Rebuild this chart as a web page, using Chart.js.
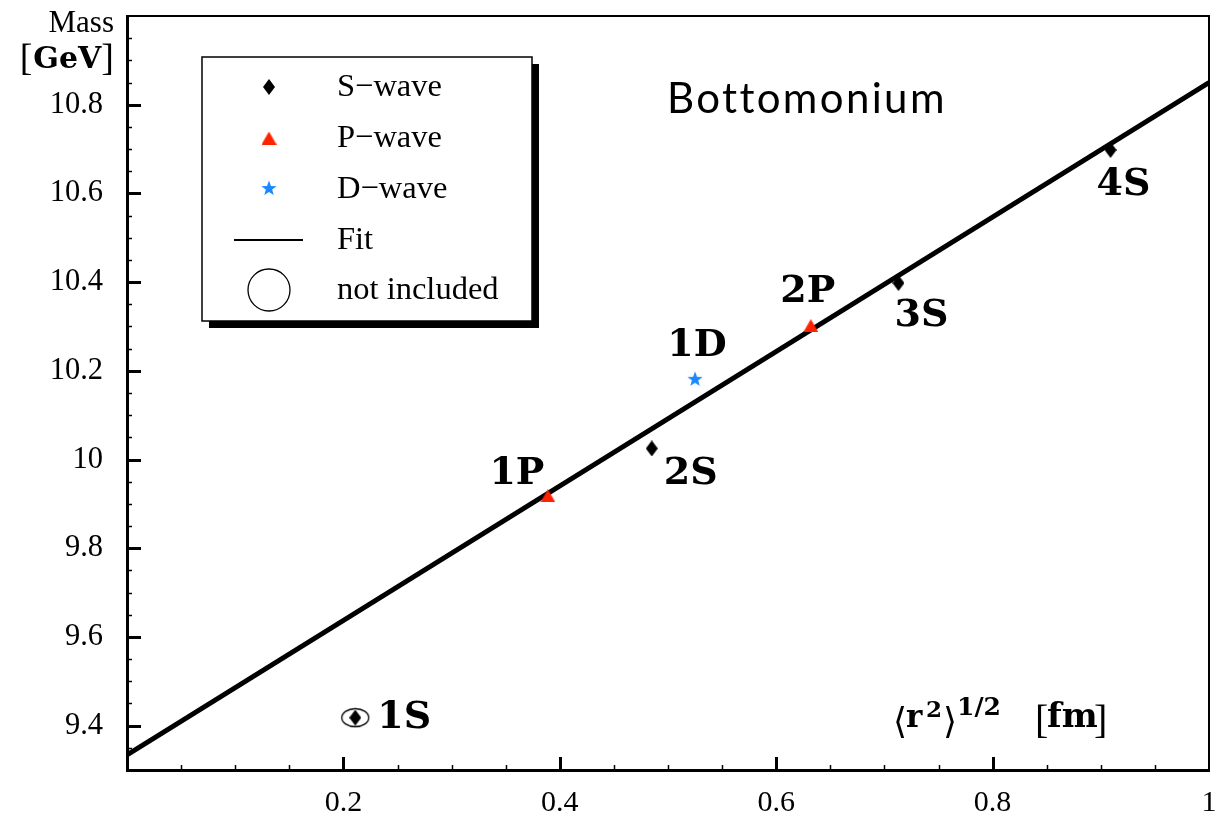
<!DOCTYPE html>
<html>
<head>
<meta charset="utf-8">
<script src="https://cdn.jsdelivr.net/npm/chart.js@4.4.1/dist/chart.umd.min.js"></script>
<style>
  html, body { margin: 0; padding: 0; background: #fff; overflow: hidden; }
  #myChart { display: block; }
</style>
</head>
<body>
<canvas id="myChart" width="1223" height="817"></canvas>
<script>
"use strict";

/* Values */
const sStates = ["2S", "3S", "4S"];
const sRadius = [0.485, 0.713, 0.909];
const sMass = [10.025, 10.398, 10.698];

const pStates = ["1P", "2P"];
const pRadius = [0.389, 0.632];
const pMass = [9.918, 10.302];

const dStates = ["1D"];
const dRadius = [0.525];
const dMass = [10.182];

const excludedStates = ["1S"];
const excludedRadius = [0.211];
const excludedMass = [9.418];

const fitRadius = [0, 1];
const fitMass = [9.334, 10.850];

const xTicks = [0.2, 0.4, 0.6, 0.8, 1];
const yTicks = [9.4, 9.6, 9.8, 10, 10.2, 10.4, 10.6, 10.8];

/* Label offsets in pixels (style only) */
const labelOffsets = {
  "1S": [22, 0, "left"],
  "1P": [-31, -22, "center"],
  "2S": [39, 26, "center"],
  "1D": [2, -33, "center"],
  "2P": [-3, -33, "center"],
  "3S": [23, 33, "center"],
  "4S": [13, 35, "center"]
};

const SERIF = "'Liberation Serif', 'Times New Roman', serif";
const BOLD_SERIF = "'DejaVu Serif', serif";
const RED = "#ff2200";
const BLUE = "#1a88ff";

/* Marker images */
function makeCanvas(w, h, draw) {
  const c = document.createElement("canvas");
  c.width = w;
  c.height = h;
  draw(c.getContext("2d"), w, h);
  return c;
}

const diamond = makeCanvas(12, 16, (g, w, h) => {
  g.fillStyle = "#000";
  g.beginPath();
  g.moveTo(w / 2, 0);
  g.lineTo(w, h / 2);
  g.lineTo(w / 2, h);
  g.lineTo(0, h / 2);
  g.closePath();
  g.fill();
});

const triangle = makeCanvas(15, 13, (g, w, h) => {
  g.fillStyle = RED;
  g.beginPath();
  g.moveTo(w / 2, 0);
  g.lineTo(w, h);
  g.lineTo(0, h);
  g.closePath();
  g.fill();
});

const star = makeCanvas(16, 16, (g, w, h) => {
  g.fillStyle = BLUE;
  g.beginPath();
  const R = 8, r = 3.3;
  for (let i = 0; i < 10; i++) {
    const a = -Math.PI / 2 + i * Math.PI / 5;
    const rad = i % 2 === 0 ? R : r;
    const px = w / 2 + rad * Math.cos(a);
    const py = h / 2 + 0.6 + rad * Math.sin(a);
    if (i === 0) g.moveTo(px, py); else g.lineTo(px, py);
  }
  g.closePath();
  g.fill();
});

const ellipse = makeCanvas(30, 21, (g, w, h) => {
  g.strokeStyle = "#000";
  g.lineWidth = 1.3;
  g.beginPath();
  g.ellipse(w / 2, h / 2, 13.5, 9, 0, 0, Math.PI * 2);
  g.stroke();
});

function toPoints(xs, ys) {
  return xs.map((x, i) => ({ x: x, y: ys[i] }));
}

function noScalePadding(scale) {
  scale.paddingTop = 0;
  scale.paddingBottom = 0;
  scale.paddingLeft = 0;
  scale.paddingRight = 0;
}

/* Frame, inward ticks, labels, legend box */
const decorations = {
  id: "decorations",
  afterDraw(chart) {
    const ctx = chart.ctx;
    const area = chart.chartArea;
    const xs = chart.scales.x;
    const ys = chart.scales.y;
    ctx.save();

    // top and right frame
    ctx.strokeStyle = "#000";
    ctx.lineWidth = 2;
    ctx.beginPath();
    ctx.moveTo(area.left, area.top);
    ctx.lineTo(area.right, area.top);
    ctx.lineTo(area.right, area.bottom);
    ctx.stroke();

    // inward ticks
    for (let k = 1; k < 20; k++) {
      const px = Math.round(xs.getPixelForValue(k * 0.05)) + 0.5;
      const major = k % 4 === 0;
      ctx.lineWidth = major ? 3 : 1.5;
      ctx.beginPath();
      ctx.moveTo(px, area.bottom);
      ctx.lineTo(px, area.bottom - (major ? 13 : 5));
      ctx.stroke();
    }
    for (let k = 1; k < 34; k++) {
      const v = 9.3 + k * 0.05;
      const py = Math.round(ys.getPixelForValue(v)) + 0.5;
      const major = (k - 2) % 4 === 0;
      ctx.lineWidth = major ? 3 : 1.5;
      ctx.beginPath();
      ctx.moveTo(area.left, py);
      ctx.lineTo(area.left + (major ? 14 : 5), py);
      ctx.stroke();
    }

    // state labels next to each marker
    ctx.fillStyle = "#000";
    ctx.font = "bold 38px " + BOLD_SERIF;
    ctx.textBaseline = "middle";
    chart.data.datasets.forEach((ds, i) => {
      if (!ds.states) return;
      const meta = chart.getDatasetMeta(i);
      meta.data.forEach((el, j) => {
        const name = ds.states[j];
        const off = labelOffsets[name];
        ctx.textAlign = off[2];
        ctx.fillText(name, el.x + off[0], el.y + off[1]);
      });
    });

    // legend box with shadow
    const bx = 202, by = 57, bw = 330, bh = 264;
    ctx.fillStyle = "#000";
    ctx.fillRect(bx + 7, by + 7, bw, bh);
    ctx.fillStyle = "#fff";
    ctx.fillRect(bx, by, bw, bh);
    ctx.strokeStyle = "#000";
    ctx.lineWidth = 1.5;
    ctx.strokeRect(bx, by, bw, bh);

    const symX = 269, textX = 337;
    ctx.drawImage(diamond, symX - diamond.width / 2, 87 - diamond.height / 2);
    ctx.drawImage(triangle, symX - triangle.width / 2, 138 - triangle.height / 2);
    ctx.drawImage(star, symX - star.width / 2, 188 - star.height / 2);
    ctx.lineWidth = 2;
    ctx.beginPath();
    ctx.moveTo(234, 240);
    ctx.lineTo(303, 240);
    ctx.stroke();
    ctx.lineWidth = 1.3;
    ctx.beginPath();
    ctx.arc(symX, 290, 21, 0, Math.PI * 2);
    ctx.stroke();

    ctx.fillStyle = "#000";
    ctx.font = "32.5px " + SERIF;
    ctx.textAlign = "left";
    ctx.textBaseline = "alphabetic";
    const legendText = ["S\u2212wave", "P\u2212wave", "D\u2212wave", "Fit", "not included"];
    const legendBase = [96, 147, 198, 249, 299];
    legendText.forEach((t, i) => ctx.fillText(t, textX, legendBase[i]));

    // title, stretched to the width of the original
    ctx.font = "42px Lato, 'Open Sans', sans-serif";
    const title = "Bottomonium";
    const tw = ctx.measureText(title).width;
    ctx.letterSpacing = ((276 - tw) / (title.length - 1)).toFixed(2) + "px";
    ctx.fillText(title, 667, 113);
    ctx.letterSpacing = "0px";

    // y axis title
    ctx.textAlign = "right";
    ctx.font = "31px " + SERIF;
    ctx.fillText("Mass", 114, 32);
    let x = 114;
    ctx.font = "38px " + SERIF;
    ctx.fillText("]", x, 70);
    x -= ctx.measureText("]").width;
    ctx.font = "bold 30px " + BOLD_SERIF;
    ctx.fillText("GeV", x, 68);
    x -= ctx.measureText("GeV").width + 1;
    ctx.font = "38px " + SERIF;
    ctx.fillText("[", x, 70);

    // x axis title
    ctx.textAlign = "left";
    const put = (t, font, px, py) => {
      ctx.font = font;
      ctx.fillText(t, px, py);
    };
    const ANGLE = "36px 'DejaVu Sans', sans-serif";
    put("\u27E8", ANGLE, 893, 733);
    put("r", "bold 31px " + BOLD_SERIF, 906, 727);
    put("2", "bold 23px " + BOLD_SERIF, 926, 717);
    put("\u27E9", ANGLE, 943, 733);
    put("1/2", "bold 25px " + BOLD_SERIF, 957, 715);
    put("[", "40px " + SERIF, 1035, 733);
    put("fm", "bold 34px " + BOLD_SERIF, 1047, 727);
    put("]", "40px " + SERIF, 1094, 733);

    ctx.restore();
  }
};

const ctxEl = document.getElementById("myChart");
new Chart(ctxEl, {
  type: "scatter",
  data: {
    datasets: [
      {
        label: "Fit",
        type: "line",
        data: toPoints(fitRadius, fitMass),
        borderColor: "#000",
        borderWidth: 5,
        pointRadius: 0,
        fill: false,
        order: 10
      },
      {
        label: "S-wave",
        data: toPoints(sRadius, sMass),
        states: sStates,
        pointStyle: diamond,
        order: 1
      },
      {
        label: "P-wave",
        data: toPoints(pRadius, pMass),
        states: pStates,
        pointStyle: triangle,
        order: 1
      },
      {
        label: "D-wave",
        data: toPoints(dRadius, dMass),
        states: dStates,
        pointStyle: star,
        order: 1
      },
      {
        label: "1S diamond",
        data: toPoints(excludedRadius, excludedMass),
        pointStyle: diamond,
        order: 2
      },
      {
        label: "not included",
        data: toPoints(excludedRadius, excludedMass),
        states: excludedStates,
        pointStyle: ellipse,
        order: 3
      }
    ]
  },
  options: {
    responsive: false,
    animation: false,
    devicePixelRatio: 1,
    layout: { padding: { left: 0, right: 14, top: 16, bottom: 0 } },
    plugins: {
      legend: { display: false },
      tooltip: { enabled: false }
    },
    scales: {
      x: {
        type: "linear",
        min: 0,
        max: 1,
        afterBuildTicks: scale => { scale.ticks = xTicks.map(v => ({ value: v })); },
        afterFit: scale => { scale.height = 47; noScalePadding(scale); },
        grid: { display: false, drawTicks: false },
        border: { display: true, color: "#000", width: 3 },
        ticks: {
          padding: 15,
          maxRotation: 0,
          color: "#000",
          font: { family: SERIF, size: 30 },
          callback: v => String(Math.round(v * 10) / 10)
        }
      },
      y: {
        type: "linear",
        min: 9.3,
        max: 11.0,
        afterBuildTicks: scale => { scale.ticks = yTicks.map(v => ({ value: v })); },
        afterFit: scale => { scale.width = 127; noScalePadding(scale); },
        grid: { display: false, drawTicks: false },
        border: { display: true, color: "#000", width: 3 },
        ticks: {
          padding: 24,
          autoSkip: false,
          color: "#000",
          font: { family: SERIF, size: 30.5 },
          callback: v => String(Math.round(v * 10) / 10)
        }
      }
    }
  },
  plugins: [decorations]
});
</script>
</body>
</html>
